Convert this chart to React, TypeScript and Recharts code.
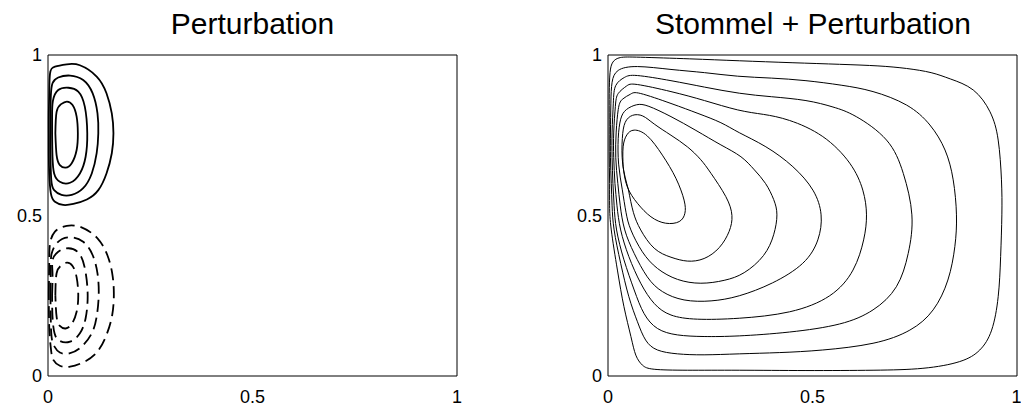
import React from "react";
import { LineChart, Line, XAxis, YAxis } from "recharts";

type Pt = [number, number];

const FONT = "'Liberation Sans', Arial, Helvetica, sans-serif";
const ticks = [0, 0.5, 1];
const titles = ["Perturbation", "Stommel + Perturbation"];

// perturbation, positive lobe (solid)
const pos1: Pt[] = [[0.002,0.756],[0.002,0.82],[0.003,0.881],[0.005,0.943],[0.017,0.964],[0.046,0.971],[0.078,0.968],[0.119,0.933],[0.143,0.881],[0.156,0.818],[0.160,0.756],[0.156,0.694],[0.143,0.631],[0.123,0.579],[0.095,0.550],[0.062,0.536],[0.037,0.533],[0.017,0.543],[0.007,0.569],[0.003,0.631],[0.002,0.69],[0.002,0.756]];
const pos2: Pt[] = [[0.006,0.756],[0.006,0.82],[0.007,0.875],[0.011,0.912],[0.025,0.930],[0.054,0.936],[0.086,0.922],[0.109,0.881],[0.121,0.818],[0.123,0.756],[0.119,0.694],[0.107,0.631],[0.086,0.585],[0.058,0.564],[0.033,0.564],[0.015,0.579],[0.008,0.611],[0.006,0.69],[0.006,0.756]];
const pos3: Pt[] = [[0.010,0.756],[0.010,0.81],[0.012,0.857],[0.025,0.891],[0.050,0.898],[0.074,0.886],[0.090,0.839],[0.096,0.756],[0.092,0.683],[0.078,0.631],[0.054,0.602],[0.029,0.605],[0.015,0.631],[0.011,0.683],[0.010,0.756]];
const pos4: Pt[] = [[0.018,0.756],[0.021,0.823],[0.032,0.847],[0.046,0.855],[0.060,0.844],[0.070,0.808],[0.073,0.756],[0.070,0.704],[0.058,0.663],[0.043,0.649],[0.029,0.657],[0.021,0.688],[0.018,0.756]];

// perturbation, negative lobe (dashed)
const neg1: Pt[] = [[0.002,0.258],[0.003,0.361],[0.005,0.413],[0.017,0.450],[0.046,0.468],[0.082,0.463],[0.121,0.429],[0.145,0.377],[0.157,0.320],[0.161,0.258],[0.157,0.190],[0.143,0.128],[0.121,0.076],[0.090,0.045],[0.054,0.029],[0.029,0.032],[0.013,0.050],[0.007,0.086],[0.003,0.154],[0.002,0.258]];
const neg2: Pt[] = [[0.006,0.252],[0.007,0.351],[0.009,0.382],[0.021,0.413],[0.050,0.432],[0.086,0.418],[0.109,0.377],[0.121,0.320],[0.124,0.252],[0.119,0.185],[0.107,0.133],[0.082,0.091],[0.054,0.071],[0.029,0.073],[0.015,0.093],[0.008,0.133],[0.006,0.252]];
const neg3: Pt[] = [[0.010,0.252],[0.011,0.320],[0.011,0.361],[0.025,0.387],[0.050,0.398],[0.076,0.382],[0.091,0.330],[0.097,0.252],[0.092,0.180],[0.078,0.133],[0.054,0.107],[0.029,0.109],[0.016,0.133],[0.011,0.185],[0.010,0.252]];
const neg4: Pt[] = [[0.018,0.252],[0.021,0.320],[0.032,0.344],[0.046,0.353],[0.060,0.343],[0.070,0.307],[0.074,0.252],[0.070,0.200],[0.058,0.162],[0.043,0.148],[0.029,0.156],[0.021,0.185],[0.018,0.252]];

// stommel + perturbation streamlines, outermost first
const st1: Pt[] = [[0.004,0.60],[0.003,0.70],[0.003,0.80],[0.003,0.88],[0.005,0.945],[0.012,0.978],[0.030,0.992],[0.08,0.993],[0.2,0.988],[0.321,0.982],[0.45,0.976],[0.566,0.971],[0.66,0.966],[0.730,0.958],[0.790,0.945],[0.838,0.925],[0.893,0.891],[0.934,0.823],[0.954,0.735],[0.962,0.611],[0.963,0.502],[0.960,0.372],[0.954,0.247],[0.938,0.143],[0.909,0.081],[0.860,0.045],[0.770,0.024],[0.648,0.018],[0.484,0.017],[0.321,0.018],[0.194,0.018],[0.113,0.021],[0.084,0.034],[0.068,0.065],[0.056,0.123],[0.039,0.216],[0.023,0.330],[0.008,0.455],[0.004,0.53],[0.004,0.60]];
const st2: Pt[] = [[0.008,0.60],[0.006,0.68],[0.006,0.76],[0.007,0.85],[0.010,0.915],[0.025,0.952],[0.072,0.964],[0.154,0.955],[0.236,0.945],[0.317,0.934],[0.40,0.928],[0.484,0.920],[0.570,0.906],[0.648,0.886],[0.730,0.844],[0.787,0.782],[0.824,0.704],[0.844,0.611],[0.852,0.502],[0.848,0.403],[0.831,0.299],[0.795,0.206],[0.738,0.143],[0.648,0.102],[0.525,0.081],[0.42,0.073],[0.321,0.069],[0.235,0.066],[0.170,0.069],[0.121,0.081],[0.092,0.112],[0.072,0.169],[0.051,0.247],[0.031,0.351],[0.015,0.455],[0.010,0.53],[0.008,0.60]];
const st3: Pt[] = [[0.012,0.60],[0.010,0.68],[0.010,0.76],[0.013,0.85],[0.019,0.905],[0.040,0.930],[0.072,0.936],[0.154,0.920],[0.236,0.900],[0.321,0.881],[0.40,0.870],[0.484,0.858],[0.550,0.838],[0.607,0.808],[0.681,0.735],[0.722,0.631],[0.743,0.502],[0.734,0.382],[0.705,0.278],[0.648,0.206],[0.566,0.162],[0.444,0.137],[0.321,0.125],[0.235,0.123],[0.170,0.128],[0.121,0.148],[0.088,0.195],[0.064,0.268],[0.039,0.362],[0.021,0.455],[0.015,0.53],[0.012,0.60]];
const st4: Pt[] = [[0.017,0.60],[0.014,0.68],[0.014,0.76],[0.018,0.84],[0.025,0.880],[0.045,0.903],[0.072,0.908],[0.154,0.886],[0.236,0.858],[0.317,0.829],[0.380,0.815],[0.444,0.796],[0.525,0.746],[0.591,0.663],[0.623,0.579],[0.632,0.502],[0.625,0.424],[0.599,0.330],[0.542,0.250],[0.444,0.200],[0.321,0.180],[0.219,0.177],[0.154,0.190],[0.113,0.226],[0.080,0.289],[0.051,0.372],[0.031,0.455],[0.022,0.53],[0.017,0.60]];
const st5: Pt[] = [[0.024,0.60],[0.019,0.68],[0.020,0.76],[0.025,0.830],[0.035,0.862],[0.055,0.878],[0.080,0.880],[0.154,0.849],[0.220,0.818],[0.276,0.789],[0.321,0.758],[0.386,0.714],[0.452,0.652],[0.501,0.579],[0.521,0.502],[0.513,0.424],[0.476,0.351],[0.402,0.290],[0.321,0.250],[0.252,0.234],[0.186,0.237],[0.133,0.263],[0.096,0.309],[0.064,0.382],[0.041,0.455],[0.030,0.53],[0.024,0.60]];
const st6: Pt[] = [[0.035,0.58],[0.026,0.66],[0.025,0.74],[0.031,0.800],[0.045,0.830],[0.070,0.845],[0.100,0.840],[0.154,0.808],[0.215,0.765],[0.276,0.720],[0.325,0.683],[0.358,0.642],[0.385,0.600],[0.405,0.550],[0.413,0.502],[0.405,0.440],[0.380,0.375],[0.333,0.322],[0.284,0.298],[0.227,0.289],[0.170,0.301],[0.121,0.335],[0.084,0.387],[0.056,0.455],[0.044,0.51],[0.035,0.58]];
const st7: Pt[] = [[0.050,0.58],[0.036,0.66],[0.035,0.74],[0.042,0.790],[0.060,0.812],[0.085,0.810],[0.113,0.785],[0.154,0.750],[0.194,0.714],[0.226,0.675],[0.252,0.631],[0.288,0.559],[0.303,0.500],[0.296,0.450],[0.272,0.400],[0.235,0.366],[0.194,0.358],[0.154,0.370],[0.113,0.398],[0.080,0.455],[0.062,0.51],[0.050,0.58]];
const st8: Pt[] = [[0.037,0.652],[0.037,0.714],[0.046,0.751],[0.064,0.766],[0.096,0.748],[0.133,0.688],[0.166,0.616],[0.186,0.548],[0.188,0.507],[0.174,0.481],[0.141,0.476],[0.105,0.496],[0.072,0.538],[0.047,0.590],[0.037,0.652]];

type Contour = { pts: Pt[]; dashed?: boolean };

const leftContours: Contour[] = [
  ...[pos1, pos2, pos3, pos4].map((pts) => ({ pts })),
  ...[neg1, neg2, neg3, neg4].map((pts) => ({ pts, dashed: true })),
];
const rightContours: Contour[] = [st1, st2, st3, st4, st5, st6, st7, st8].map((pts) => ({ pts }));

const tickStyle = { fill: "#000", fontSize: 18, fontFamily: FONT };

const Panel = ({
  left,
  width,
  margin,
  contours,
  lineWidth,
}: {
  left: number;
  width: number;
  margin: { top: number; left: number; right: number; bottom: number };
  contours: Contour[];
  lineWidth: number;
}) => (
  <div style={{ position: "absolute", left, top: 0 }}>
    <LineChart width={width} height={409} margin={margin}>
      <XAxis
        xAxisId="b"
        dataKey="x"
        type="number"
        domain={[0, 1]}
        ticks={ticks}
        tickSize={0}
        tickMargin={14}
        height={25}
        axisLine={{ stroke: "#000" }}
        tick={tickStyle}
      />
      <XAxis xAxisId="bi" dataKey="x" type="number" domain={[0, 1]} ticks={ticks} mirror tick={false} tickSize={5} axisLine={false} tickLine={{ stroke: "#000" }} />
      <XAxis xAxisId="t" orientation="top" dataKey="x" type="number" domain={[0, 1]} ticks={ticks} mirror tick={false} tickSize={5} axisLine={{ stroke: "#000" }} tickLine={{ stroke: "#000" }} />
      <YAxis
        yAxisId="l"
        dataKey="y"
        type="number"
        domain={[0, 1]}
        ticks={ticks}
        tickSize={0}
        tickMargin={6}
        width={40}
        axisLine={{ stroke: "#000" }}
        tick={tickStyle}
      />
      <YAxis yAxisId="li" dataKey="y" type="number" domain={[0, 1]} ticks={ticks} mirror tick={false} tickSize={5} axisLine={false} tickLine={{ stroke: "#000" }} />
      <YAxis yAxisId="r" orientation="right" dataKey="y" type="number" domain={[0, 1]} ticks={ticks} mirror tick={false} tickSize={5} axisLine={{ stroke: "#000" }} tickLine={{ stroke: "#000" }} />
      {contours.map((c, i) => (
        <Line
          key={i}
          xAxisId="b"
          yAxisId="l"
          data={c.pts.map(([x, y]) => ({ x, y }))}
          dataKey="y"
          type="natural"
          stroke="#000"
          strokeWidth={lineWidth}
          strokeDasharray={c.dashed ? "12 6" : undefined}
          dot={false}
          activeDot={false}
          isAnimationActive={false}
        />
      ))}
    </LineChart>
  </div>
);

export default function App() {
  return (
    <div style={{ position: "absolute", left: 0, top: 0, width: 1021, height: 409, background: "#fff", fontFamily: FONT }}>
      <Panel left={0} width={500} margin={{ top: 55, left: 8, right: 43, bottom: 8 }} contours={leftContours} lineWidth={1.8} />
      <Panel left={560} width={461} margin={{ top: 55, left: 8, right: 4, bottom: 8 }} contours={rightContours} lineWidth={1} />
      <svg width={1021} height={409} style={{ position: "absolute", left: 0, top: 0, pointerEvents: "none" }}>
        <text x={252.5} y={34} textAnchor="middle" fontSize={30} fontFamily={FONT} fill="#000">
          {titles[0]}
        </text>
        <text x={813} y={34} textAnchor="middle" fontSize={30} fontFamily={FONT} fill="#000">
          {titles[1]}
        </text>
      </svg>
    </div>
  );
}
